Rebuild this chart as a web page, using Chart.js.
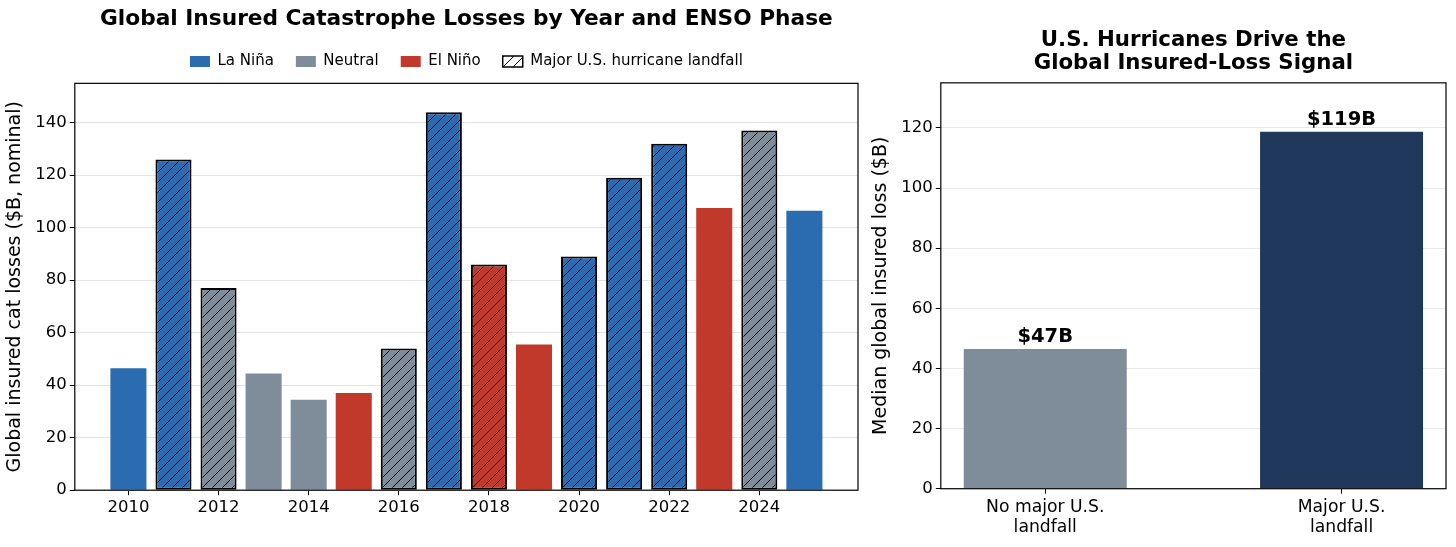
<!DOCTYPE html>
<html>
<head>
<meta charset="utf-8">
<script src="https://cdn.jsdelivr.net/npm/chart.js@4.4.1/dist/chart.umd.min.js"></script>
<style>
  html, body { margin: 0; padding: 0; background: #fff; }
  #wrap { position: relative; width: 1456px; height: 547px; }
  #leftBox { position: absolute; left: 0; top: 0; width: 865px; height: 547px; }
  #rightBox { position: absolute; left: 865px; top: 0; width: 591px; height: 547px; }
</style>
</head>
<body>
<div id="wrap">
  <div id="leftBox"><canvas id="yearChart" width="865" height="547"></canvas></div>
  <div id="rightBox"><canvas id="medianChart" width="591" height="547"></canvas></div>
</div>
<script>
// yearly insured cat losses, $B nominal
var years = [2010, 2011, 2012, 2013, 2014, 2015, 2016, 2017, 2018, 2019, 2020, 2021, 2022, 2023, 2024, 2025];
var insuredLosses = [46.5, 126, 77, 44.5, 34.5, 37, 54, 144, 86, 55.5, 89, 119, 132, 107.5, 137, 106.5];
var ensoPhase = ["La Niña", "La Niña", "Neutral", "Neutral", "Neutral", "El Niño", "Neutral", "La Niña",
  "El Niño", "El Niño", "La Niña", "La Niña", "La Niña", "El Niño", "Neutral", "La Niña"];
var majorLandfall = [false, true, true, false, false, false, true, true, true, false, true, true, true, false, true, false];
var yearTicks = [2010, 2012, 2014, 2016, 2018, 2020, 2022, 2024];
var legendPhases = ["La Niña", "Neutral", "El Niño"];

// medians split by landfall
var medianGroups = [["No major U.S.", "landfall"], ["Major U.S.", "landfall"]];
var medianLosses = [46.5, 118.7];

var phaseColors = {
  "La Niña": "#2b6cb0",
  "Neutral": "#7f8c9a",
  "El Niño": "#c0392b",
};
var medianColors = ["#7f8c9a", "#1f385c"];

Chart.defaults.font.family = "'DejaVu Sans', sans-serif";
Chart.defaults.color = "#000";
Chart.defaults.animation = false;

function hatchPattern(ctx, bg) {
  var size = 10;
  var c = document.createElement("canvas");
  c.width = size;
  c.height = size;
  var p = c.getContext("2d");
  p.fillStyle = bg;
  p.fillRect(0, 0, size, size);
  p.strokeStyle = "#000";
  p.lineWidth = 1;
  p.beginPath();
  p.moveTo(0, size); p.lineTo(size, 0);
  p.moveTo(-size / 2, size / 2); p.lineTo(size / 2, -size / 2);
  p.moveTo(size / 2, size * 1.5); p.lineTo(size * 1.5, size / 2);
  p.stroke();
  return ctx.createPattern(c, "repeat");
}

// matplotlib-like box around the plot
var framePlugin = {
  id: "frame",
  afterDraw: function (chart) {
    var a = chart.chartArea;
    var ctx = chart.ctx;
    ctx.save();
    ctx.strokeStyle = "#000";
    ctx.lineWidth = 1.2;
    ctx.strokeRect(a.left, a.top, a.right - a.left, a.bottom - a.top);
    ctx.restore();
  },
};

var valueLabelPlugin = {
  id: "valueLabels",
  afterDraw: function (chart) {
    var ctx = chart.ctx;
    var meta = chart.getDatasetMeta(0);
    ctx.save();
    ctx.font = "bold 19.5px 'DejaVu Sans'";
    ctx.fillStyle = "#000";
    ctx.textAlign = "center";
    ctx.textBaseline = "alphabetic";
    meta.data.forEach(function (bar, i) {
      ctx.fillText("$" + Math.round(medianLosses[i]) + "B", bar.x, bar.y - 7);
    });
    ctx.restore();
  },
};

function displayYearChart() {
  var chartDiv = document.getElementById("yearChart");
  var ctx = chartDiv.getContext("2d");

  var points = years.map(function (yr, i) {
    return { x: yr, y: insuredLosses[i] };
  });
  var fills = ensoPhase.map(function (ph, i) {
    return majorLandfall[i] ? hatchPattern(ctx, phaseColors[ph]) : phaseColors[ph];
  });
  var borders = majorLandfall.map(function (m) {
    return m ? 2 : 0;
  });

  new Chart(chartDiv, {
    type: "bar",
    data: {
      datasets: [
        {
          data: points,
          backgroundColor: fills,
          borderColor: "#000",
          borderWidth: borders,
          borderSkipped: false,
          barPercentage: 0.8,
          categoryPercentage: 1.0,
        },
      ],
    },
    options: {
      responsive: false,
      layout: { padding: { left: 3.5, right: 7, top: 0, bottom: 26 } },
      plugins: {
        title: {
          display: true,
          text: "Global Insured Catastrophe Losses by Year and ENSO Phase",
          fullSize: false,
          font: { size: 21.7, weight: "bold", lineHeight: 1.2 },
          padding: { top: 6, bottom: 0 },
        },
        // thin spacer between legend and plot
        subtitle: {
          display: true,
          text: "",
          weight: 500,
          fullSize: false,
          font: { size: 1, lineHeight: 1 },
          padding: { top: 1.6, bottom: 1.7 },
        },
        legend: {
          display: true,
          position: "top",
          fullSize: false,
          onClick: null,
          labels: {
            boxWidth: 20,
            boxHeight: 11,
            padding: 22,
            font: { size: 15 },
            generateLabels: function (chart) {
              var items = legendPhases.map(function (ph) {
                return {
                  text: ph,
                  fillStyle: phaseColors[ph],
                  strokeStyle: phaseColors[ph],
                  lineWidth: 0,
                  hidden: false,
                };
              });
              items.push({
                text: "Major U.S. hurricane landfall",
                fillStyle: hatchPattern(chart.ctx, "#fff"),
                strokeStyle: "#000",
                lineWidth: 1.5,
                hidden: false,
              });
              return items;
            },
          },
        },
        tooltip: { enabled: false },
      },
      scales: {
        x: {
          type: "linear",
          min: 2008.81,
          max: 2026.19,
          offset: false,
          border: { display: false },
          grid: { offset: false, drawOnChartArea: false, tickColor: "#000", tickLength: 5 },
          afterBuildTicks: function (scale) {
            scale.ticks = yearTicks.map(function (v) {
              return { value: v };
            });
          },
          ticks: {
            font: { size: 16.5 },
            padding: 3,
            maxRotation: 0,
            autoSkip: false,
            callback: function (value) {
              return String(value);
            },
          },
        },
        y: {
          min: 0,
          max: 155,
          border: { display: false },
          grid: { color: "#e3e3e3", tickColor: "#000", tickLength: 5 },
          ticks: { stepSize: 20, includeBounds: false, font: { size: 16.5 }, padding: 3 },
          title: {
            display: true,
            text: "Global insured cat losses ($B, nominal)",
            font: { size: 19 },
            padding: { top: 0, bottom: 6 },
          },
        },
      },
    },
    plugins: [framePlugin],
  });
}

function displayMedianChart() {
  var chartDiv = document.getElementById("medianChart");

  var points = medianLosses.map(function (v, i) {
    return { x: i, y: v };
  });

  new Chart(chartDiv, {
    type: "bar",
    data: {
      datasets: [
        {
          data: points,
          backgroundColor: medianColors,
          borderWidth: 0,
          barPercentage: 0.55,
          categoryPercentage: 1.0,
        },
      ],
    },
    options: {
      responsive: false,
      layout: { padding: { left: 4.5, right: 10, top: 0, bottom: 6 } },
      plugins: {
        title: {
          display: true,
          text: ["U.S. Hurricanes Drive the", "Global Insured-Loss Signal"],
          fullSize: false,
          font: { size: 21.3, weight: "bold", lineHeight: 1.1 },
          padding: { top: 28.5, bottom: 7.5 },
        },
        legend: { display: false },
        tooltip: { enabled: false },
      },
      scales: {
        x: {
          type: "linear",
          min: -0.3525,
          max: 1.3525,
          offset: false,
          border: { display: false },
          grid: { offset: false, drawOnChartArea: false, tickColor: "#000", tickLength: 5 },
          afterBuildTicks: function (scale) {
            scale.ticks = medianGroups.map(function (g, i) {
              return { value: i };
            });
          },
          ticks: {
            font: { size: 17.2 },
            padding: 3,
            maxRotation: 0,
            autoSkip: false,
            callback: function (value) {
              return medianGroups[value];
            },
          },
        },
        y: {
          min: 0,
          max: 135,
          z: 1,
          border: { display: false },
          grid: { color: "rgba(205,205,205,0.45)", tickColor: "#000", tickLength: 5 },
          ticks: { stepSize: 20, includeBounds: false, font: { size: 16.5 }, padding: 3 },
          title: {
            display: true,
            text: "Median global insured loss ($B)",
            font: { size: 19 },
            padding: { top: 0, bottom: 6 },
          },
        },
      },
    },
    plugins: [framePlugin, valueLabelPlugin],
  });
}

displayYearChart();
displayMedianChart();
</script>
</body>
</html>
